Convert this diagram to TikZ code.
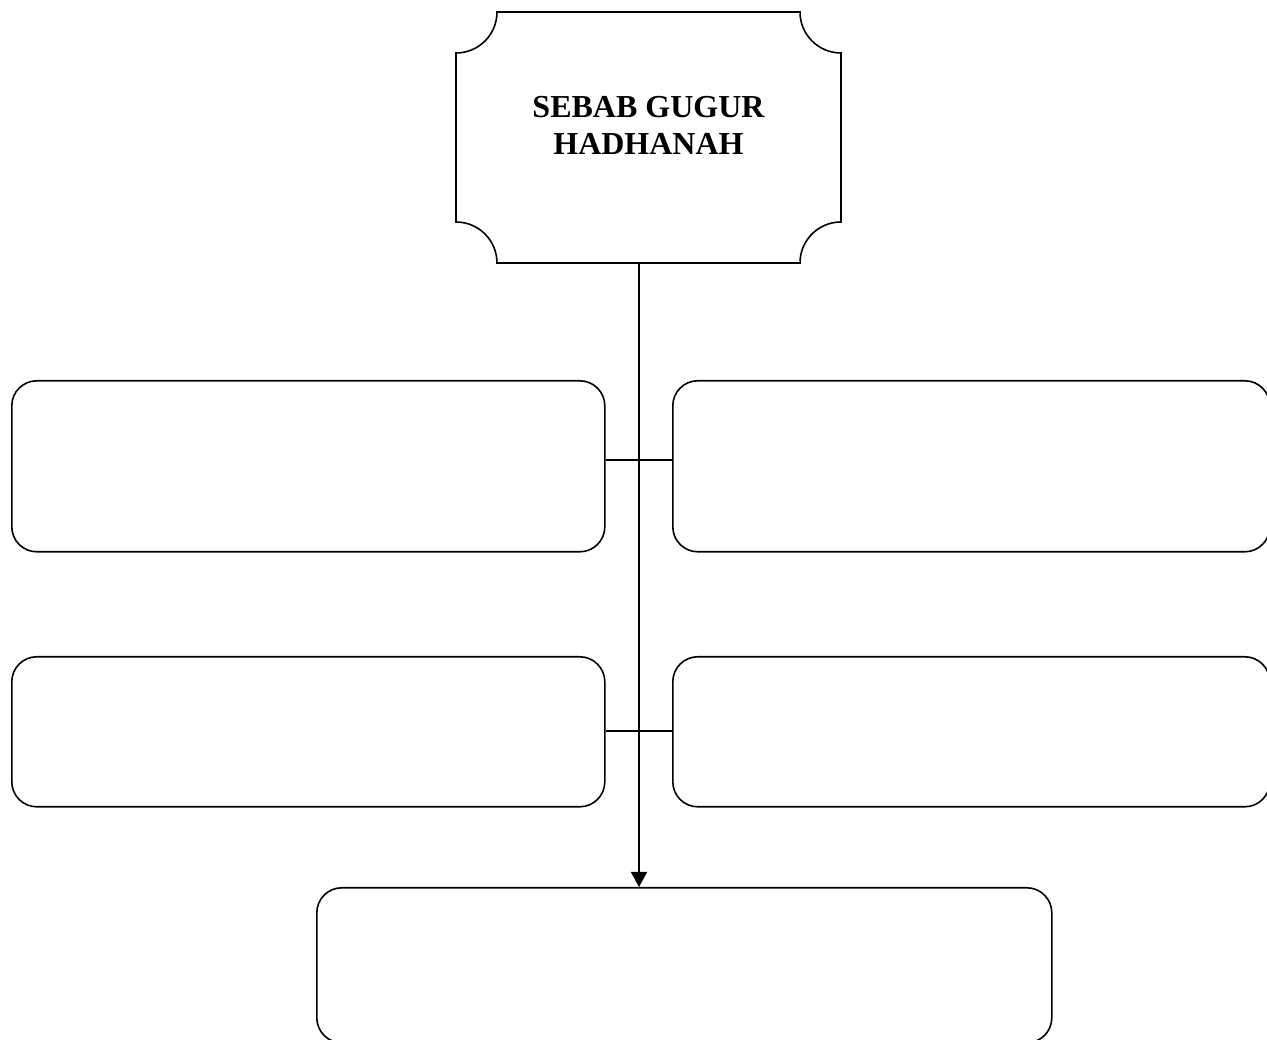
\documentclass[tikz,border=0pt]{standalone}
\usepackage{fontspec}
\setmainfont{Liberation Serif}
\usetikzlibrary{arrows.meta}
\begin{document}
\begin{tikzpicture}[x=1pt,y=1pt,
  line width=1.6pt,
  card/.style={draw, rounded corners=25pt, anchor=north west, inner sep=0pt},
  conn/.style={draw, line width=1.6pt},
  title/.style={align=center, font=\bfseries\fontsize{32}{37}\selectfont}]
\useasboundingbox (0,0) rectangle (1267,1040);
% plaque outline
\draw (497,1028) -- (800,1028) arc[start angle=180, end angle=270, radius=41]
  -- (841,818) arc[start angle=90, end angle=180, radius=41]
  -- (497,777) arc[start angle=0, end angle=90, radius=41]
  -- (456,987) arc[start angle=270, end angle=360, radius=41] -- cycle;
\node[title] (top) at (648.5,915) {SEBAB GUGUR\\HADHANAH};
\coordinate (topb) at (639,777);
% boxes
\node[card, minimum width=593pt, minimum height=171pt] (l1) at (11,660) {};
\node[card, minimum width=597pt, minimum height=171pt] (r1) at (672,660) {};
\node[card, minimum width=593pt, minimum height=150pt] (l2) at (11,384) {};
\node[card, minimum width=597pt, minimum height=150pt] (r2) at (672,384) {};
\node[card, minimum width=735pt, minimum height=155pt] (bot) at (316,153) {};
% connectors
\draw[conn, -{Triangle[length=15pt,width=16pt]}] (topb) -- (bot.north -| topb);
\draw[conn] ([yshift=6.5pt]l1.east) -- ([yshift=6.5pt]r1.west);
\draw[conn] ([yshift=1pt]l2.east) -- ([yshift=1pt]r2.west);
\end{tikzpicture}
\end{document}
